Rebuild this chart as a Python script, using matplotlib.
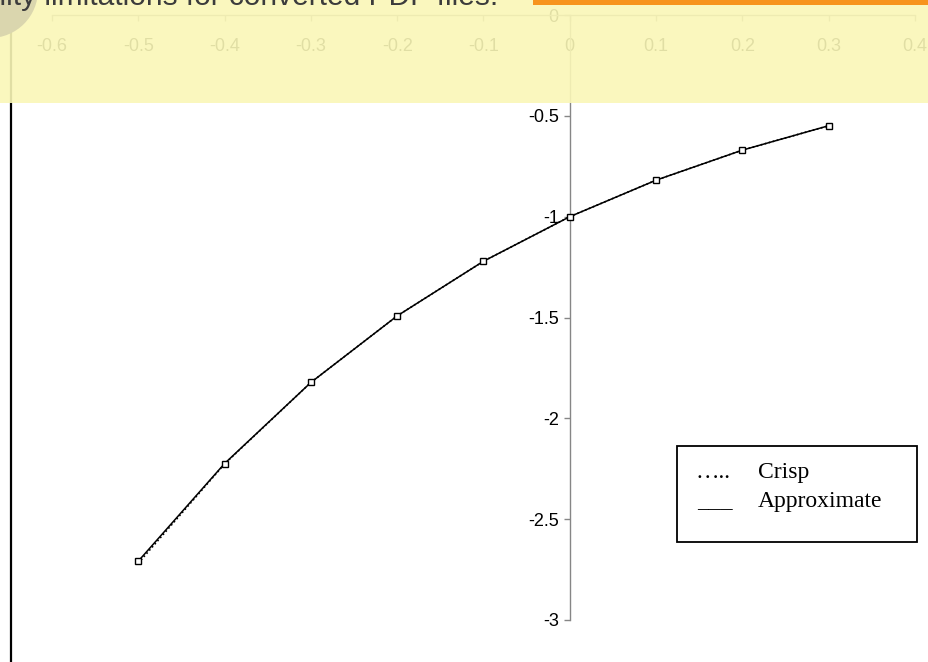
import matplotlib
matplotlib.use("Agg")
import matplotlib.pyplot as plt
from matplotlib.patches import Rectangle, Ellipse
from matplotlib.lines import Line2D

# Data
x_vals = [-0.5, -0.4, -0.3, -0.2, -0.1, 0.0, 0.1, 0.2, 0.3]
crisp = [-2.718, -2.226, -1.822, -1.492, -1.221, -1.000, -0.819, -0.670, -0.549]
approximate = [-2.708, -2.224, -1.822, -1.492, -1.221, -1.000, -0.819, -0.670, -0.549]

x_ticks = [-0.6, -0.5, -0.4, -0.3, -0.2, -0.1, 0.0, 0.1, 0.2, 0.3, 0.4]
x_tick_labels = ["-0.6", "-0.5", "-0.4", "-0.3", "-0.2", "-0.1", "0", "0.1", "0.2", "0.3", "0.4"]
y_ticks = [-3.0, -2.5, -2.0, -1.5, -1.0, -0.5, 0.0]
y_tick_labels = ["-3", "-2.5", "-2", "-1.5", "-1", "-0.5", "0"]

W, H = 929, 662
fig = plt.figure(figsize=(W / 100, H / 100), dpi=100)
fig.patch.set_facecolor("white")


def fx(px):
    return px / W


def fy(py):
    return 1 - py / H


# Axes box: x from -0.6 to 0.4, y from -3 to 0
left, right, top, bottom = 52, 915, 15, 620
ax = fig.add_axes([fx(left), fy(bottom), fx(right - left), (bottom - top) / H])
ax.set_xlim(-0.6, 0.4)
ax.set_ylim(-3, 0)
ax.patch.set_alpha(0)

axis_grey = "#868686"
for side in ("top", "right"):
    ax.spines[side].set_visible(False)
ax.spines["bottom"].set_position(("data", 0))
ax.spines["left"].set_position(("data", 0))
ax.spines["bottom"].set_color(axis_grey)
ax.spines["left"].set_color(axis_grey)
ax.spines["bottom"].set_linewidth(1.0)
ax.spines["left"].set_linewidth(1.0)

tick_font = dict(family="Liberation Sans", size=13)
ax.set_xticks(x_ticks)
ax.set_xticklabels(x_tick_labels, **tick_font)
ax.set_yticks(y_ticks)
ax.set_yticklabels(y_tick_labels, **tick_font)
ax.tick_params(axis="x", direction="out", length=4.5, width=1.0, color=axis_grey, pad=12)
ax.tick_params(axis="y", direction="out", length=4, width=1.0, color=axis_grey, pad=4)

# Series
ax.plot(x_vals, crisp, linestyle=(0, (1, 1.5)), color="black", linewidth=1.2, zorder=3)
ax.plot(x_vals, approximate, linestyle="-", color="black", linewidth=1.1, zorder=4,
        marker="s", markersize=5, markerfacecolor="white", markeredgecolor="black",
        markeredgewidth=1.0)

# Legend box drawn with text keys
lx0, ly0, lx1, ly1 = 677, 446, 917, 542
fig.patches.append(Rectangle((fx(lx0), fy(ly1)), fx(lx1 - lx0), (ly1 - ly0) / H,
                             transform=fig.transFigure, facecolor="white",
                             edgecolor="black", linewidth=1.3, zorder=3))
serif = dict(family="Liberation Serif", size=17, color="black", zorder=4)
fig.text(fx(696), fy(478), "\u2026..", ha="left", va="baseline", **serif)
fig.text(fx(758), fy(478), "Crisp", ha="left", va="baseline", **serif)
fig.text(fx(697), fy(507), "___", ha="left", va="baseline", **serif)
fig.text(fx(758), fy(507), "Approximate", ha="left", va="baseline", **serif)

# Left edge rule
fig.lines.append(Line2D([fx(11), fx(11)], [0, 1], transform=fig.transFigure,
                        color="black", linewidth=1.6, zorder=4))

# Top banner
fig.patches.append(Rectangle((0, fy(103)), 1, 103 / H, transform=fig.transFigure,
                             facecolor="#FAF7B7", edgecolor="none", alpha=0.9, zorder=5))
fig.patches.append(Ellipse((fx(-10), fy(-10)), 96 / W, 96 / H, transform=fig.transFigure,
                           facecolor="#DAD6AE", edgecolor="none", zorder=6))
fig.patches.append(Rectangle((fx(533), fy(5)), fx(W - 533), 5 / H, transform=fig.transFigure,
                             facecolor="#F7941D", edgecolor="none", zorder=7))
fig.text(fx(498), fy(5), "Quality limitations for converted PDF files.", ha="right",
         va="baseline", family="Liberation Sans", size=21.5, color="#3C3C3C", zorder=8)

fig.savefig("out.png", dpi=100)
